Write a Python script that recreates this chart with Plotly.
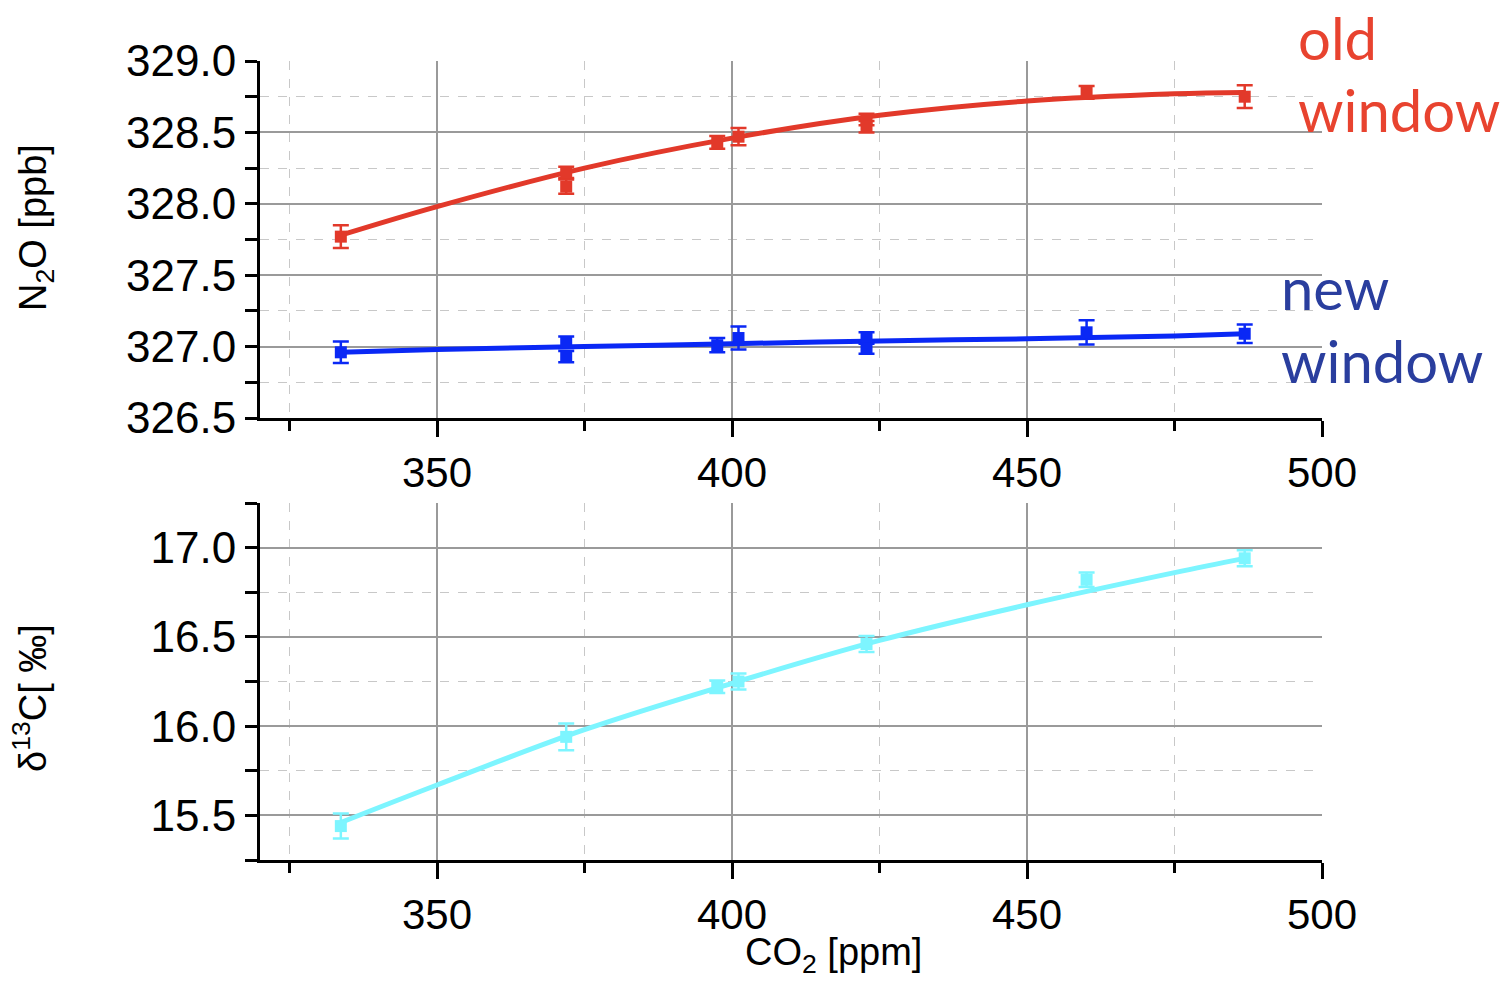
import plotly.graph_objects as go

# ---------------- data ----------------
co2_red = [333.7, 371.9, 371.9, 397.5, 401.1, 422.8, 422.8, 460.1, 486.9]
n2o_old = [327.77, 328.22, 328.12, 328.43, 328.47, 328.59, 328.54, 328.78, 328.75]
n2o_old_err = [0.08, 0.04, 0.05, 0.045, 0.06, 0.04, 0.04, 0.045, 0.08]

co2_blue = [333.7, 371.9, 371.9, 397.5, 401.1, 422.8, 422.8, 460.1, 486.9]
n2o_new = [326.96, 327.03, 326.93, 327.01, 327.06, 327.06, 326.99, 327.10, 327.09]
n2o_new_err = [0.075, 0.04, 0.04, 0.05, 0.08, 0.04, 0.04, 0.085, 0.065]

co2_d13c = [333.7, 371.9, 397.5, 401.1, 422.8, 460.1, 486.9]
d13c = [15.44, 15.94, 16.22, 16.25, 16.46, 16.82, 16.94]
d13c_err = [0.07, 0.075, 0.035, 0.045, 0.045, 0.04, 0.045]

# fitted curves at these CO2 values
fit_co2 = [333.7, 350, 375, 400, 425, 450, 475, 486.9]
fit_old = [327.78, 327.98, 328.25, 328.46, 328.62, 328.72, 328.77, 328.78]
fit_new = [326.96, 326.98, 327.00, 327.02, 327.04, 327.055, 327.075, 327.09]
fit_d13c = [15.46, 15.67, 15.98, 16.24, 16.48, 16.68, 16.86, 16.94]

x_range = [320, 500]
y_top_range = [326.5, 329.0]
y_bot_range = [15.25, 17.25]

# ---------------- styling ----------------
W, H = 1508, 981
RED = "#E2392A"
BLUE = "#0A28F5"
CYAN = "#7DF5FF"
RED_TXT = "#E8432F"
BLUE_TXT = "#2A3E9E"
FONT = "Liberation Sans, Arial, sans-serif"

def fx(p):
    return p / W

def fy(p):
    return 1 - p / H

fig = go.Figure()

def add_series(x, y, err, fx_, fy_, color, xa, ya, name):
    fig.add_trace(go.Scatter(x=fx_, y=fy_, mode="lines", xaxis=xa, yaxis=ya,
                             line=dict(color=color, width=5, shape="spline"),
                             showlegend=False, name=name + " fit", hoverinfo="skip"))
    fig.add_trace(go.Scatter(x=x, y=y, mode="markers", xaxis=xa, yaxis=ya,
                             marker=dict(symbol="square", size=12, color=color),
                             error_y=dict(type="data", array=err, color=color,
                                          thickness=2.5, width=8),
                             showlegend=False, name=name))

add_series(co2_red, n2o_old, n2o_old_err, fit_co2, fit_old, RED, "x", "y", "old window")
add_series(co2_blue, n2o_new, n2o_new_err, fit_co2, fit_new, BLUE, "x", "y", "new window")
add_series(co2_d13c, d13c, d13c_err, fit_co2, fit_d13c, CYAN, "x2", "y2", "δ13C")

axis_common = dict(
    showline=True, linecolor="black", linewidth=3, mirror=False,
    ticks="outside", tickcolor="black", tickwidth=2.5,
    showgrid=True, gridcolor="#9a9a9a", gridwidth=1.5, zeroline=False,
    tickfont=dict(family=FONT, size=42, color="black"), automargin=False,
)

def xaxis(anchor):
    return dict(axis_common, domain=[fx(260), fx(1322)], anchor=anchor,
                range=x_range, tick0=350, dtick=50, ticklen=16,
                minor=dict(tick0=325, dtick=50, ticks="outside", ticklen=10,
                           tickwidth=2.5, tickcolor="black", showgrid=True,
                           gridcolor="#c8c8c8", griddash="dash", gridwidth=1))

def yaxis(anchor, rng, t0, mt0, dom):
    return dict(axis_common, domain=dom, anchor=anchor, range=rng,
                tick0=t0, dtick=0.5, tickformat=".1f", ticklen=12,
                tickfont=dict(family=FONT, size=44, color="black"),
                minor=dict(tick0=mt0, dtick=0.5, ticks="outside", ticklen=12,
                           tickwidth=2.5, tickcolor="black", showgrid=True,
                           gridcolor="#c8c8c8", griddash="dash", gridwidth=1))

fig.update_layout(
    width=W, height=H,
    margin=dict(l=0, r=0, t=0, b=0),
    paper_bgcolor="white", plot_bgcolor="white",
    showlegend=False,
    xaxis=xaxis("y"),
    yaxis=yaxis("x", y_top_range, 326.5, 326.75, [fy(418), fy(61)]),
    xaxis2=xaxis("y2"),
    yaxis2=yaxis("x2", y_bot_range, 15.5, 15.25, [fy(860), fy(503)]),
)

annos = [
    dict(text="old", x=fx(1296), y=fy(37), xanchor="left", yanchor="middle",
         font=dict(family="Lato, sans-serif", size=58, color=RED_TXT)),
    dict(text="window", x=fx(1296), y=fy(110), xanchor="left", yanchor="middle",
         font=dict(family="Lato, sans-serif", size=58, color=RED_TXT)),
    dict(text="new", x=fx(1279), y=fy(287), xanchor="left", yanchor="middle",
         font=dict(family="Lato, sans-serif", size=58, color=BLUE_TXT)),
    dict(text="window", x=fx(1279), y=fy(360), xanchor="left", yanchor="middle",
         font=dict(family="Lato, sans-serif", size=58, color=BLUE_TXT)),
    dict(text="CO<sub>2</sub> [ppm]", x=fx(834), y=fy(955), xanchor="center", yanchor="middle",
         font=dict(family=FONT, size=38, color="black")),
    dict(text="N<sub>2</sub>O [ppb]", x=fx(36), y=fy(228), xanchor="center", yanchor="middle",
         textangle=-90, font=dict(family=FONT, size=38, color="black")),
    dict(text="δ<sup>13</sup>C[ ‰]", x=fx(30), y=fy(698), xanchor="center", yanchor="middle",
         textangle=-90, font=dict(family=FONT, size=38, color="black")),
]
for a in annos:
    a.update(xref="paper", yref="paper", showarrow=False)
fig.update_layout(annotations=annos)

fig.write_html("out.html", config={"displayModeBar": False},
               post_script="document.body.style.margin='0';")
